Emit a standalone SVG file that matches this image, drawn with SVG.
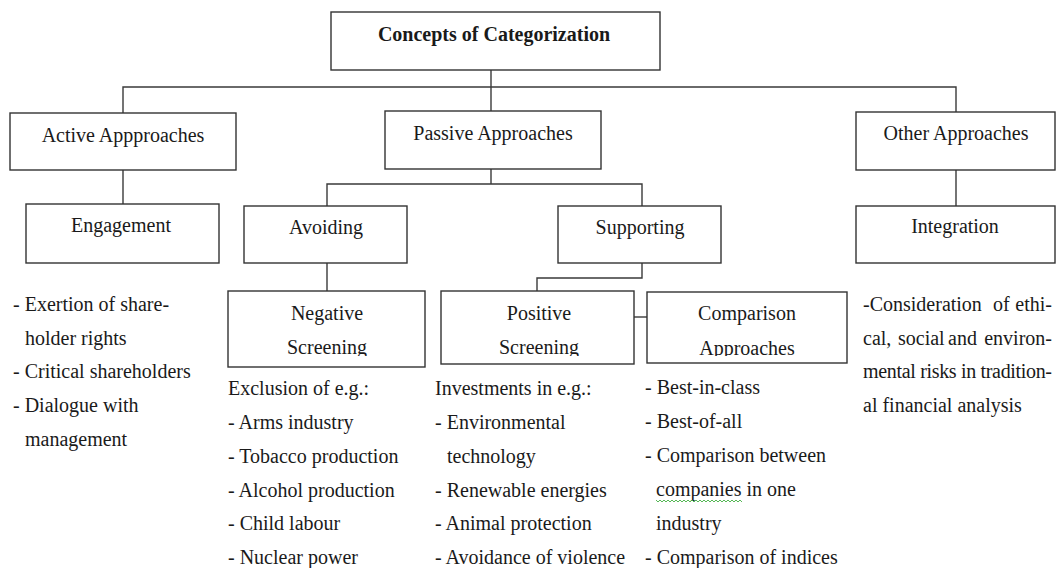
<svg xmlns="http://www.w3.org/2000/svg" width="1059" height="568" viewBox="0 0 1059 568">
  <style>
    .box { fill: #ffffff; stroke: #333333; stroke-width: 1.4; }
    .conn { fill: none; stroke: #3a3a3a; stroke-width: 1.4; }
    text { font-family: "Liberation Serif", "Times New Roman", serif; font-size: 20px; fill: #1a1a1a; }
    .c { text-anchor: middle; }
    .e { text-anchor: end; }
    .b { font-weight: bold; }
  </style>
  <defs>
    <clipPath id="clipNeg"><rect x="228" y="291" width="197" height="65"/></clipPath>
    <clipPath id="clipPos"><rect x="441" y="291" width="193" height="65"/></clipPath>
    <clipPath id="clipCmp"><rect x="647" y="292" width="200" height="64"/></clipPath>
  </defs>

  <rect width="1059" height="568" fill="#ffffff"/>

  <!-- connectors -->
  <g id="connectors">
    <path class="conn" d="M491 70 V87"/>
    <path class="conn" d="M123 113 V87 H956 V112"/>
    <path class="conn" d="M491 87 V111"/>
    <path class="conn" d="M123 170 V204"/>
    <path class="conn" d="M491 169 V184"/>
    <path class="conn" d="M327 206 V184 H642 V206"/>
    <path class="conn" d="M327 263 V291"/>
    <path class="conn" d="M642 263 V278 H537 V291"/>
    <path class="conn" d="M634 317 H647"/>
    <path class="conn" d="M956 170 V206"/>
  </g>

  <!-- root -->
  <g id="root">
    <rect class="box" x="331" y="12" width="329" height="58"/>
    <text class="c b" x="494" y="41">Concepts of Categorization</text>
  </g>

  <!-- first level -->
  <g id="active">
    <rect class="box" x="10" y="113" width="226" height="57"/>
    <text class="c" x="123" y="142">Active Appproaches</text>
  </g>
  <g id="passive">
    <rect class="box" x="385" y="111" width="216" height="58"/>
    <text class="c" x="493" y="140">Passive Approaches</text>
  </g>
  <g id="other">
    <rect class="box" x="856" y="112" width="199" height="58"/>
    <text class="c" x="956" y="140">Other Approaches</text>
  </g>

  <!-- second level -->
  <g id="engagement">
    <rect class="box" x="26" y="204" width="193" height="59"/>
    <text class="c" x="121" y="232">Engagement</text>
  </g>
  <g id="avoiding">
    <rect class="box" x="244" y="206" width="163" height="57"/>
    <text class="c" x="326" y="234">Avoiding</text>
  </g>
  <g id="supporting">
    <rect class="box" x="558" y="206" width="163" height="57"/>
    <text class="c" x="640" y="234">Supporting</text>
  </g>
  <g id="integration">
    <rect class="box" x="856" y="206" width="199" height="57"/>
    <text class="c" x="955" y="233">Integration</text>
  </g>

  <!-- third level -->
  <g id="negative-screening">
    <rect class="box" x="228" y="291" width="197" height="76"/>
    <g clip-path="url(#clipNeg)">
      <text class="c" x="327" y="320">Negative</text>
      <text class="c" x="327" y="354">Screening</text>
    </g>
  </g>
  <g id="positive-screening">
    <rect class="box" x="441" y="291" width="193" height="73"/>
    <g clip-path="url(#clipPos)">
      <text class="c" x="539" y="320">Positive</text>
      <text class="c" x="539" y="354">Screening</text>
    </g>
  </g>
  <g id="comparison-approaches">
    <rect class="box" x="647" y="292" width="200" height="71"/>
    <g clip-path="url(#clipCmp)">
      <text class="c" x="747" y="320">Comparison</text>
      <text class="c" x="747" y="355">Approaches</text>
    </g>
  </g>

  <!-- descriptive lists -->
  <g id="engagement-list">
    <text x="13" y="311">- Exertion of share-</text>
    <text x="25" y="345">holder rights</text>
    <text x="13" y="378">- Critical shareholders</text>
    <text x="13" y="412">- Dialogue with</text>
    <text x="25" y="446">management</text>
  </g>

  <g id="negative-list">
    <text x="228" y="395">Exclusion of e.g.:</text>
    <text x="228" y="429">- Arms industry</text>
    <text x="228" y="463">- Tobacco production</text>
    <text x="228" y="497">- Alcohol production</text>
    <text x="228" y="530">- Child labour</text>
    <text x="228" y="564">- Nuclear power</text>
  </g>

  <g id="positive-list">
    <text x="435" y="395">Investments in e.g.:</text>
    <text x="435" y="429">- Environmental</text>
    <text x="447" y="463">technology</text>
    <text x="435" y="497">- Renewable energies</text>
    <text x="435" y="530">- Animal protection</text>
    <text x="435" y="564">- Avoidance of violence</text>
  </g>

  <g id="comparison-list">
    <text x="645" y="394">- Best-in-class</text>
    <text x="645" y="428">- Best-of-all</text>
    <text x="645" y="462">- Comparison between</text>
    <text x="656" y="496">companies in one</text>
    <path d="M656 500 l2 2 l2 -2 l2 2 l2 -2 l2 2 l2 -2 l2 2 l2 -2 l2 2 l2 -2 l2 2 l2 -2 l2 2 l2 -2 l2 2 l2 -2 l2 2 l2 -2 l2 2 l2 -2 l2 2 l2 -2 l2 2 l2 -2 l2 2 l2 -2 l2 2 l2 -2 l2 2 l2 -2 l2 2 l2 -2 l2 2 l2 -2 l2 2 l2 -2 l2 2 l2 -2 l2 2 l2 -2 l2 2 l2 -2 l2 2" fill="none" stroke="#44b044" stroke-width="0.9"/>
    <text x="656" y="530">industry</text>
    <text x="645" y="564">- Comparison of indices</text>
  </g>

  <g id="integration-list">
    <text x="863" y="311">-Consideration</text>
    <text x="993" y="311">of</text>
    <text class="e" x="1052" y="311">ethi-</text>
    <text x="863" y="345">cal,</text>
    <text x="898" y="345">social</text>
    <text x="948" y="345">and</text>
    <text class="e" x="1052" y="345">environ-</text>
    <text x="863" y="378" textLength="189" lengthAdjust="spacing">mental risks in tradition-</text>
    <text x="863" y="412">al financial analysis</text>
  </g>
</svg>
